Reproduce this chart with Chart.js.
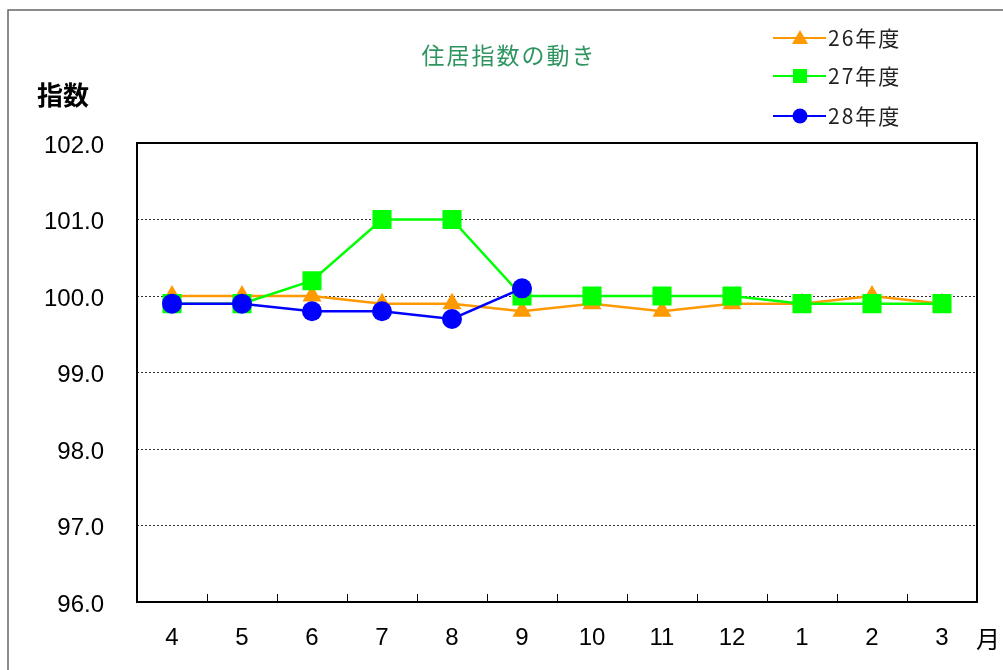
<!DOCTYPE html>
<html lang="ja">
<head>
  <meta charset="UTF-8" />
  <title>住居指数の動き</title>
  <script src="https://cdn.jsdelivr.net/npm/chart.js"></script>
  <style>
    html, body { margin: 0; padding: 0; background: #fff; }
    #wrap { width: 1003px; height: 670px; }
  </style>
</head>
<body>
  <div id="wrap"><canvas id="jukyoChart" width="1003" height="670"></canvas></div>

  <script>
    // months (fiscal year order)
    const months = ['4', '5', '6', '7', '8', '9', '10', '11', '12', '1', '2', '3'];
    const fy26 = [100.0, 100.0, 100.0, 99.9, 99.9, 99.8, 99.9, 99.8, 99.9, 99.9, 100.0, 99.9];
    const fy27 = [99.9, 99.9, 100.2, 101.0, 101.0, 100.0, 100.0, 100.0, 100.0, 99.9, 99.9, 99.9];
    const fy28 = [99.9, 99.9, 99.8, 99.8, 99.7, 100.1];
    const seriesNames = ['26年度', '27年度', '28年度'];

    const NUM_FONT = '"Liberation Sans", Arial, sans-serif';
    const JP_FONT = '"Noto Sans CJK JP", sans-serif';

    const ORANGE = '#ff9900';
    const GREEN = '#00ff00';
    const BLUE = '#0000ff';

    // frame, labels, inner ticks and legend
    const decor = {
      id: 'decor',
      afterDraw(chart) {
        const ctx = chart.ctx;
        const a = chart.chartArea;
        const xs = chart.scales.x;

        ctx.save();
        // outer frame
        ctx.strokeStyle = '#666';
        ctx.lineWidth = 1.5;
        ctx.strokeRect(8, 10, 1200, 1200);

        // plot frame
        ctx.strokeStyle = '#000';
        ctx.lineWidth = 2;
        ctx.strokeRect(a.left, a.top, a.right - a.left, a.bottom - a.top);

        // small ticks between categories, pointing up
        ctx.lineWidth = 1;
        for (let i = 1; i < months.length; i++) {
          const x = Math.round((xs.getPixelForValue(i - 1) + xs.getPixelForValue(i)) / 2) + 0.5;
          ctx.beginPath();
          ctx.moveTo(x, a.bottom);
          ctx.lineTo(x, a.bottom - 8);
          ctx.stroke();
        }

        // axis captions
        ctx.fillStyle = '#000';
        ctx.textBaseline = 'middle';
        ctx.textAlign = 'left';
        ctx.font = 'bold 26px ' + JP_FONT;
        ctx.fillText('指数', 37, 95);
        ctx.font = '24px ' + JP_FONT;
        ctx.fillText('月', 976, 639);

        // title
        ctx.fillStyle = '#2f9560';
        ctx.textAlign = 'center';
        ctx.font = '23px ' + JP_FONT;
        ctx.letterSpacing = '2px';
        ctx.fillText('住居指数の動き', 509, 55);

        // legend
        const rows = [38, 76, 116];
        const colors = [ORANGE, GREEN, BLUE];
        ctx.textAlign = 'left';
        ctx.letterSpacing = '2px';
        ctx.font = '21px ' + JP_FONT;
        rows.forEach((y, i) => {
          ctx.strokeStyle = colors[i];
          ctx.fillStyle = colors[i];
          ctx.lineWidth = 2;
          ctx.beginPath();
          ctx.moveTo(773, y);
          ctx.lineTo(826, y);
          ctx.stroke();
          ctx.beginPath();
          if (i === 0) {
            ctx.moveTo(800, y - 8);
            ctx.lineTo(808, y + 6);
            ctx.lineTo(792, y + 6);
            ctx.closePath();
            ctx.fill();
          } else if (i === 1) {
            ctx.fillRect(793, y - 7, 14, 14);
          } else {
            ctx.arc(800, y, 7.5, 0, Math.PI * 2);
            ctx.fill();
          }
          ctx.fillStyle = '#222';
          ctx.fillText(seriesNames[i], 828, y);
        });
        ctx.restore();
      }
    };

    const ctx = document.getElementById('jukyoChart').getContext('2d');

    new Chart(ctx, {
      type: 'line',
      data: {
        labels: months,
        datasets: [
          {
            label: seriesNames[0],
            data: fy26,
            borderColor: ORANGE,
            backgroundColor: ORANGE,
            borderWidth: 2.5,
            pointStyle: 'triangle',
            pointRadius: 11,
            pointBorderWidth: 0,
            tension: 0,
            order: 3
          },
          {
            label: seriesNames[1],
            data: fy27,
            borderColor: GREEN,
            backgroundColor: GREEN,
            borderWidth: 2.5,
            pointStyle: 'rect',
            pointRadius: 13.5,
            pointBorderWidth: 0,
            tension: 0,
            order: 2
          },
          {
            label: seriesNames[2],
            data: fy28,
            borderColor: BLUE,
            backgroundColor: BLUE,
            borderWidth: 2.5,
            pointStyle: 'circle',
            pointRadius: 10,
            pointBorderWidth: 0,
            tension: 0,
            order: 1
          }
        ]
      },
      options: {
        responsive: false,
        animation: false,
        layout: { padding: { top: 143, right: 26, left: 0, bottom: 0 } },
        plugins: {
          legend: { display: false },
          title: { display: false },
          tooltip: { enabled: false }
        },
        scales: {
          x: {
            offset: true,
            grid: { display: false, drawTicks: false },
            border: { display: false },
            ticks: {
              color: '#000',
              padding: 22,
              maxRotation: 0,
              font: { family: NUM_FONT, size: 24 }
            },
            afterFit(scale) { scale.height = 68; }
          },
          y: {
            min: 96,
            max: 102,
            grid: {
              drawTicks: false,
              lineWidth: 1,
              color: c => (c.tick && (c.tick.value === 96 || c.tick.value === 102)) ? 'rgba(0,0,0,0)' : '#333'
            },
            border: { display: false, dash: [2, 2] },
            ticks: {
              stepSize: 1,
              color: '#000',
              padding: 33,
              labelOffset: 3,
              font: { family: NUM_FONT, size: 24 },
              callback: v => Number(v).toFixed(1)
            },
            afterFit(scale) { scale.width = 137; }
          }
        }
      },
      plugins: [decor]
    });
  </script>
</body>
</html>
